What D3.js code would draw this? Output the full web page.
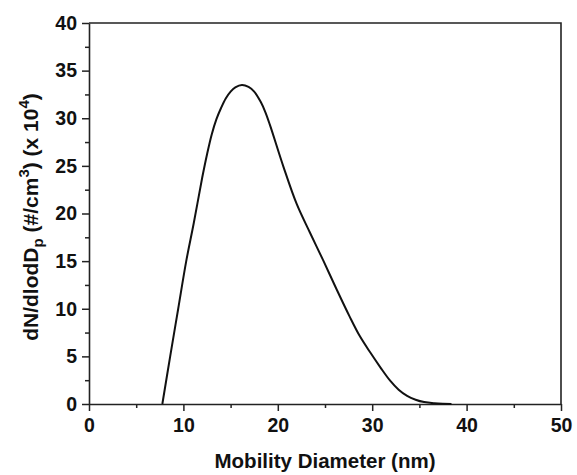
<!DOCTYPE html>
<html>
<head>
<meta charset="utf-8">
<script src="https://cdn.jsdelivr.net/npm/d3@7"></script>
<style>
  body { margin: 0; background: #fff; }
  text { font-family: "Liberation Sans", Arial, sans-serif; font-weight: bold; fill: #111; }
</style>
</head>
<body>
<svg id="chart" width="577" height="475"></svg>
<script>
// Size distribution
var diameter = [7.77, 8.6, 9.45, 10.3, 11.1, 12.0, 12.5, 13.0, 13.5, 14.0, 14.5, 15.0, 15.5, 16.2, 16.9, 17.5, 18.2, 18.7, 19.2, 20.6, 22.0, 23.4, 24.8, 26.2, 27.6, 28.7, 29.8, 30.9, 31.9, 32.8, 33.7, 34.6, 35.5, 36.6, 37.5, 38.4];
var conc = [0, 5, 10, 15, 19.0, 23.8, 26.2, 28.3, 29.9, 31.1, 32.1, 32.8, 33.25, 33.5, 33.3, 32.8, 31.7, 30.6, 29.2, 24.9, 21.0, 18.0, 15.1, 12.1, 9.2, 7.1, 5.4, 3.8, 2.45, 1.5, 0.85, 0.45, 0.2, 0.07, 0.02, 0];

var xTicks = [0, 10, 20, 30, 40, 50];
var xMinor = [5, 15, 25, 35, 45];
var yTicks = [0, 5, 10, 15, 20, 25, 30, 35, 40];
var yMinor = [2.5, 7.5, 12.5, 17.5, 22.5, 27.5, 32.5, 37.5];

var svg = d3.select("#chart");
var margin = {left: 89, right: 16, top: 23, bottom: 71};
var width = 577 - margin.left - margin.right,
    height = 475 - margin.top - margin.bottom;

var x = d3.scaleLinear().domain([0, 50]).range([0, width]);
var y = d3.scaleLinear().domain([0, 40]).range([height, 0]);

var g = svg.append("g").attr("transform", "translate(" + margin.left + "," + margin.top + ")");

// Minor ticks
g.append("g").attr("transform", "translate(0," + height + ")")
    .call(d3.axisBottom(x).tickValues(xMinor).tickSize(4).tickFormat(""))
    .call(function (a) { a.select(".domain").remove(); });
g.append("g")
    .call(d3.axisLeft(y).tickValues(yMinor).tickSize(4).tickFormat(""))
    .call(function (a) { a.select(".domain").remove(); });

// Major axes
g.append("g").attr("transform", "translate(0," + height + ")")
    .call(d3.axisBottom(x).tickValues(xTicks).tickSize(7).tickSizeOuter(0).tickPadding(7));
g.append("g")
    .call(d3.axisLeft(y).tickValues(yTicks).tickSize(7).tickSizeOuter(0).tickPadding(5));

g.selectAll(".tick line").attr("stroke", "#222").attr("stroke-width", 1.5);
g.selectAll(".domain").attr("stroke", "#222").attr("stroke-width", 1.6);
g.selectAll(".tick text").style("font-size", "19.5px").style("font-family", "'Liberation Sans', Arial, sans-serif").style("font-weight", "bold").attr("fill", "#111");

// Frame top/right
g.append("path")
    .attr("d", "M0,0H" + width + "V" + height)
    .attr("fill", "none").attr("stroke", "#222").attr("stroke-width", 1.6);

// Curve
var line = d3.line()
    .x(function (d, i) { return x(diameter[i]); })
    .y(function (d, i) { return y(conc[i]); })
    .curve(d3.curveCatmullRom.alpha(0.5));
g.append("path")
    .datum(conc)
    .attr("d", line)
    .attr("fill", "none")
    .attr("stroke", "#111")
    .attr("stroke-width", 2);

// Axis titles
svg.append("text")
    .attr("x", margin.left + width / 2)
    .attr("y", 468)
    .attr("text-anchor", "middle")
    .style("font-size", "20.5px")
    .text("Mobility Diameter (nm)");

var yt = svg.append("text")
    .attr("transform", "translate(38,217) rotate(-90)")
    .attr("text-anchor", "middle")
    .style("font-size", "21px");
yt.append("tspan").text("dN/dlodD");
yt.append("tspan").attr("dy", 5).style("font-size", "15px").text("p");
yt.append("tspan").attr("dy", -5).text(" (#/cm");
yt.append("tspan").attr("dy", -9).style("font-size", "15px").text("3");
yt.append("tspan").attr("dy", 9).text(") (x 10");
yt.append("tspan").attr("dy", -9).style("font-size", "15px").text("4");
yt.append("tspan").attr("dy", 9).text(")");
</script>
</body>
</html>
